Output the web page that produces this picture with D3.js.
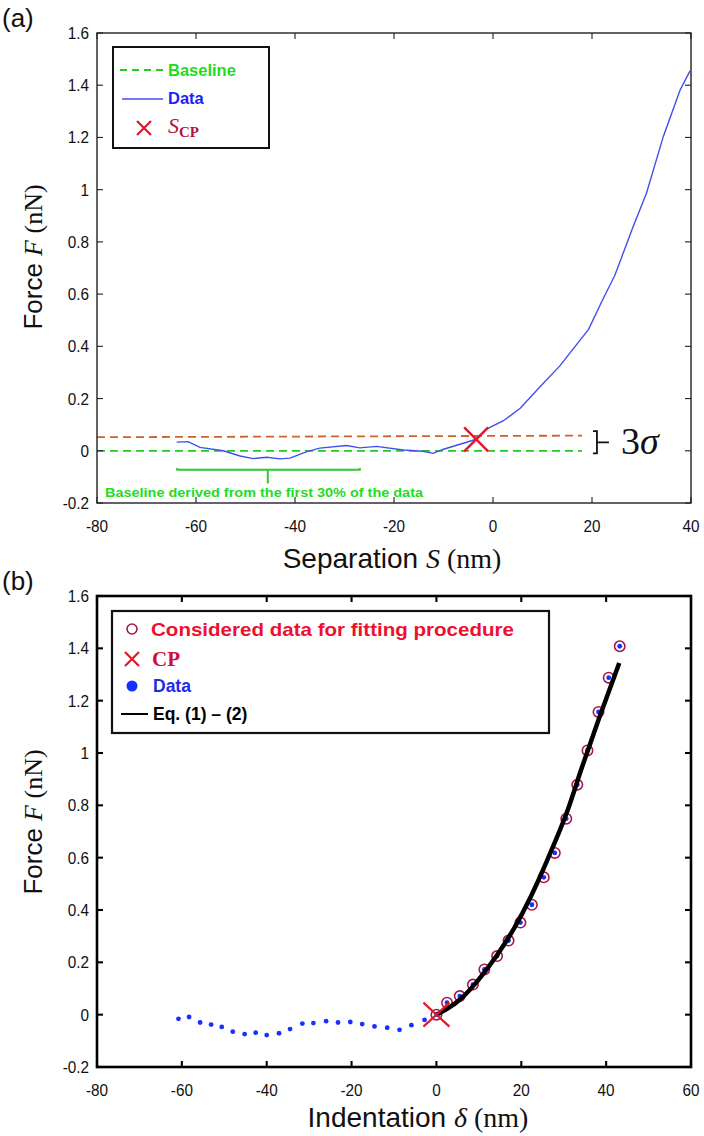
<!DOCTYPE html>
<html><head><meta charset="utf-8">
<script src="https://cdn.jsdelivr.net/npm/d3@7"></script>
<style>body{margin:0;background:#fff;} svg{display:block;}</style>
</head><body>
<svg id="c" width="704" height="1136"></svg>
<script>
// ---------- data ----------
const forceTicks = [-0.2, 0, 0.2, 0.4, 0.6, 0.8, 1, 1.2, 1.4, 1.6];
const sepTicks = [-80, -60, -40, -20, 0, 20, 40];
const indTicks = [-80, -60, -40, -20, 0, 20, 40, 60];

// panel (a): force vs separation
const sepS = [-63.9, -61.6, -59.2, -54.5, -51.1, -48.4, -45.7, -43, -41, -37.6, -35, -29.6, -26.9, -23.5, -18.1, -14.1, -12.1, -10, -6, -3.4, -1.3, 2.1, 5.5, 9.5, 13.5, 19.3, 22.3, 24.6, 28.3, 31.0, 34.4, 37.8, 39.8];
const sepF = [0.033, 0.035, 0.013, 0.0, -0.02, -0.03, -0.025, -0.031, -0.028, -0.003, 0.01, 0.02, 0.011, 0.017, 0.003, -0.002, -0.01, 0.006, 0.029, 0.044, 0.083, 0.115, 0.163, 0.245, 0.325, 0.465, 0.584, 0.671, 0.858, 0.986, 1.203, 1.382, 1.455];
const baselineS = [-80, 18];
const baselineF = [0, 0];
const sigmaS = [-80, 18];
const sigmaF = [0.052, 0.058];
const cpA = {s: -3.4, f: 0.044};
const annotS = [-63.8, -45.5, -26.9];   // bracket start, middle tick, end
const annotF = [-0.073, -0.125, -0.066]; // bracket level, middle tick end, end tick tops
const annotText = "Baseline derived from the first 30% of the data";

// panel (b): force vs indentation
const indD = [-60.8, -58.3, -55.7, -53.1, -50.6, -48.0, -45.2, -42.6, -40.0, -37.1, -34.5, -31.6, -29.0, -26.0, -23.2, -20.3, -17.5, -14.6, -11.6, -8.7, -5.9, -2.8, 0, 2.5, 5.5, 8.6, 11.3, 14.3, 17.0, 19.8, 22.5, 25.3, 27.9, 30.6, 33.2, 35.6, 38.2, 40.6, 43.2];
const indF = [-0.016, -0.009, -0.030, -0.038, -0.047, -0.065, -0.074, -0.069, -0.078, -0.071, -0.055, -0.034, -0.032, -0.025, -0.030, -0.028, -0.036, -0.045, -0.050, -0.058, -0.040, -0.020, 0, 0.046, 0.071, 0.115, 0.173, 0.224, 0.283, 0.352, 0.420, 0.525, 0.618, 0.749, 0.879, 1.010, 1.157, 1.288, 1.408];
const fitD = [0, 2.5, 5.7, 8.8, 11.2, 14.3, 18.3, 22.2, 26.1, 30.9, 34.4, 38.5, 43.1];
const fitF = [0, 0.022, 0.06, 0.112, 0.16, 0.228, 0.33, 0.45, 0.59, 0.78, 0.95, 1.14, 1.344];
const cpB = {d: 0, f: 0};

// ---------- drawing ----------
const svg = d3.select("#c");
const sans = "'Liberation Sans', Arial, sans-serif";
const serif = "'Liberation Serif', 'DejaVu Serif', serif";

function frame(g, x, y, xt, yt, sw, col) {
  const [x0, x1] = x.range(), [y0, y1] = y.range(); // y0 bottom
  const tl = 6;
  xt.forEach(v => {
    g.append("line").attr("x1", x(v)).attr("x2", x(v)).attr("y1", y0).attr("y2", y0 - tl).attr("stroke", col).attr("stroke-width", sw * 0.8);
    g.append("line").attr("x1", x(v)).attr("x2", x(v)).attr("y1", y1).attr("y2", y1 + tl).attr("stroke", col).attr("stroke-width", sw * 0.8);
    g.append("text").attr("x", x(v)).attr("y", y0 + 29).attr("text-anchor", "middle")
      .attr("font-family", sans).attr("font-size", 17).attr("fill", "#111")
      .attr("transform", `translate(${x(v)},0) scale(0.9,1) translate(${-x(v)},0)`).text(String(v));
  });
  yt.forEach(v => {
    g.append("line").attr("x1", x0).attr("x2", x0 + tl).attr("y1", y(v)).attr("y2", y(v)).attr("stroke", col).attr("stroke-width", sw * 0.8);
    g.append("line").attr("x1", x1).attr("x2", x1 - tl).attr("y1", y(v)).attr("y2", y(v)).attr("stroke", col).attr("stroke-width", sw * 0.8);
    g.append("text").attr("x", x0 - 8).attr("y", y(v) + 6).attr("text-anchor", "end")
      .attr("font-family", sans).attr("font-size", 17).attr("fill", "#111")
      .attr("transform", `translate(${x0 - 8},0) scale(0.9,1) translate(${-(x0 - 8)},0)`).text(String(v));
  });
  g.append("rect").attr("x", x0).attr("y", y1).attr("width", x1 - x0).attr("height", y0 - y1)
    .attr("fill", "none").attr("stroke", col).attr("stroke-width", sw);
}

function yTitle(cx, cy) {
  const t = svg.append("text").attr("transform", `translate(${cx},${cy}) rotate(-90)`)
    .attr("text-anchor", "middle").attr("fill", "#111").attr("font-size", 26);
  t.append("tspan").attr("font-family", sans).text("Force  ");
  t.append("tspan").attr("font-family", serif).attr("font-style", "italic").text("F");
  t.append("tspan").attr("font-family", serif).text(" (nN)");
}
function xTitle(cx, by, word, sym) {
  const t = svg.append("text").attr("x", cx).attr("y", by)
    .attr("text-anchor", "middle").attr("fill", "#111").attr("font-size", 28);
  t.append("tspan").attr("font-family", sans).text(word + " ");
  t.append("tspan").attr("font-family", serif).attr("font-style", "italic").text(sym);
  t.append("tspan").attr("font-family", serif).text(" (nm)");
}
function cross(g, cx, cy, w, h, col, sw) {
  g.append("path").attr("d", `M${cx - w},${cy - h}L${cx + w},${cy + h}M${cx - w},${cy + h}L${cx + w},${cy - h}`)
    .attr("stroke", col).attr("stroke-width", sw).attr("fill", "none");
}

// ===== Panel (a) =====
const xa = d3.scaleLinear().domain([-80, 40]).range([97, 691]);
const ya = d3.scaleLinear().domain([-0.2, 1.6]).range([503, 33]);
const ga = svg.append("g");

svg.append("text").attr("x", 2).attr("y", 27).attr("font-family", sans).attr("font-size", 26).attr("fill", "#111").text("(a)");

const lineA = d3.line().x(d => xa(d[0])).y(d => ya(d[1]));
ga.append("path").datum(d3.zip(sigmaS, sigmaF)).attr("d", lineA)
  .attr("stroke", "#d2602a").attr("stroke-width", 1.8).attr("stroke-dasharray", "8,5").attr("fill", "none");
ga.append("path").datum(d3.zip(baselineS, baselineF)).attr("d", lineA)
  .attr("stroke", "#22cc22").attr("stroke-width", 1.8).attr("stroke-dasharray", "8,5").attr("fill", "none");
ga.append("path").datum(d3.zip(sepS, sepF)).attr("d", lineA)
  .attr("stroke", "#4050ee").attr("stroke-width", 1.4).attr("fill", "none");
cross(ga, xa(cpA.s), ya(cpA.f), 12, 12, "#e0152e", 2.4);

// annotation bracket
const ab = d3.path();
ab.moveTo(xa(annotS[0]), ya(annotF[2])); ab.lineTo(xa(annotS[0]), ya(annotF[0]));
ab.lineTo(xa(annotS[2]), ya(annotF[0])); ab.lineTo(xa(annotS[2]), ya(annotF[2]));
ab.moveTo(xa(annotS[1]), ya(annotF[0])); ab.lineTo(xa(annotS[1]), ya(annotF[1]));
ga.append("path").attr("d", ab.toString()).attr("stroke", "#2ccc2c").attr("stroke-width", 2).attr("fill", "none");
ga.append("text").attr("x", 105).attr("y", 497).attr("font-family", sans).attr("font-weight", "bold")
  .attr("font-size", 12.5).attr("fill", "#22dd22").attr("textLength", 318).attr("lengthAdjust", "spacingAndGlyphs").text(annotText);

// 3 sigma bracket
{
  const bx = xa(21);
  const yt = ya(0.075), yb = ya(-0.01), ym = (yt + yb) / 2;
  ga.append("path").attr("d", `M${bx - 4},${yt}L${bx},${yt}L${bx},${yb}L${bx - 4},${yb}M${bx},${ym}L${bx + 12},${ym}`)
    .attr("stroke", "#111").attr("stroke-width", 1.8).attr("fill", "none");
  const t = ga.append("text").attr("x", bx + 24).attr("y", ym + 12).attr("font-family", serif).attr("font-size", 38).attr("fill", "#111");
  t.append("tspan").text("3");
  t.append("tspan").attr("font-style", "italic").text("σ");
}

frame(ga, xa, ya, sepTicks, forceTicks, 1.4, "#222");

// legend (a)
{
  const lg = ga.append("g");
  lg.append("rect").attr("x", 113).attr("y", 47).attr("width", 156).attr("height", 101)
    .attr("fill", "#fff").attr("stroke", "#111").attr("stroke-width", 2);
  lg.append("line").attr("x1", 120).attr("x2", 163).attr("y1", 70).attr("y2", 70)
    .attr("stroke", "#22cc22").attr("stroke-width", 1.8).attr("stroke-dasharray", "7,5");
  lg.append("text").attr("x", 168).attr("y", 76).attr("font-family", sans).attr("font-weight", "bold").attr("font-size", 16.5).attr("fill", "#1edc1e").text("Baseline");
  lg.append("line").attr("x1", 122).attr("x2", 163).attr("y1", 99).attr("y2", 99)
    .attr("stroke", "#4050ee").attr("stroke-width", 1.6);
  lg.append("text").attr("x", 168).attr("y", 104).attr("font-family", sans).attr("font-weight", "bold").attr("font-size", 16.5).attr("fill", "#1a22ff").text("Data");
  cross(lg, 144, 128, 7, 7, "#e0152e", 2.2);
  const t = lg.append("text").attr("x", 168).attr("y", 133).attr("font-family", serif).attr("fill", "#b4123c");
  t.append("tspan").attr("font-style", "italic").attr("font-size", 22).text("S");
  t.append("tspan").attr("font-weight", "bold").attr("font-size", 15).attr("dy", 4).text("CP");
}

yTitle(42, 257);
xTitle(392, 568, "Separation", "S");

// ===== Panel (b) =====
const xb = d3.scaleLinear().domain([-80, 60]).range([97, 691]);
const yb = d3.scaleLinear().domain([-0.2, 1.6]).range([1067, 596]);
const gb = svg.append("g");

svg.append("text").attr("x", 2).attr("y", 590).attr("font-family", sans).attr("font-size", 26).attr("fill", "#111").text("(b)");

const pts = d3.zip(indD, indF);
gb.selectAll("circle.dot").data(pts).join("circle").attr("class", "dot")
  .attr("cx", d => xb(d[0])).attr("cy", d => yb(d[1])).attr("r", 2.4).attr("fill", "#1530ff");
gb.selectAll("circle.cons").data(pts.filter(d => d[0] >= cpB.d)).join("circle").attr("class", "cons")
  .attr("cx", d => xb(d[0])).attr("cy", d => yb(d[1])).attr("r", 5.2)
  .attr("fill", "none").attr("stroke", "#a8164a").attr("stroke-width", 1.6);
gb.append("path").datum(d3.zip(fitD, fitF))
  .attr("d", d3.line().x(d => xb(d[0])).y(d => yb(d[1])).curve(d3.curveMonotoneX))
  .attr("stroke", "#000").attr("stroke-width", 4.5).attr("fill", "none");
cross(gb, xb(cpB.d), yb(cpB.f), 13, 12, "#e01a2a", 2.2);

frame(gb, xb, yb, indTicks, forceTicks, 2.6, "#000");

// legend (b)
{
  const lg = gb.append("g");
  lg.append("rect").attr("x", 112).attr("y", 611).attr("width", 437).attr("height", 122)
    .attr("fill", "#fff").attr("stroke", "#111").attr("stroke-width", 2.2);
  lg.append("circle").attr("cx", 132).attr("cy", 629).attr("r", 5).attr("fill", "none").attr("stroke", "#a8164a").attr("stroke-width", 1.6);
  lg.append("text").attr("x", 151).attr("y", 636).attr("font-family", sans).attr("font-weight", "bold").attr("font-size", 19)
    .attr("fill", "#ee1030").attr("textLength", 363).attr("lengthAdjust", "spacingAndGlyphs").text("Considered data for fitting procedure");
  cross(lg, 132, 659, 7, 7, "#e01a2a", 2.2);
  lg.append("text").attr("x", 152).attr("y", 666).attr("font-family", serif).attr("font-weight", "bold").attr("font-size", 21).attr("fill", "#c8103a").text("CP");
  lg.append("circle").attr("cx", 132).attr("cy", 686).attr("r", 5.5).attr("fill", "#1530ff");
  lg.append("text").attr("x", 153).attr("y", 692).attr("font-family", sans).attr("font-weight", "bold").attr("font-size", 17.5).attr("fill", "#1e2ae8").text("Data");
  lg.append("line").attr("x1", 121).attr("x2", 148).attr("y1", 714).attr("y2", 714).attr("stroke", "#000").attr("stroke-width", 2);
  lg.append("text").attr("x", 153).attr("y", 720).attr("font-family", sans).attr("font-weight", "bold").attr("font-size", 17.5).attr("fill", "#000").text("Eq. (1) – (2)");
}

yTitle(42, 822);
xTitle(418, 1127, "Indentation", "δ");
</script>
</body></html>
